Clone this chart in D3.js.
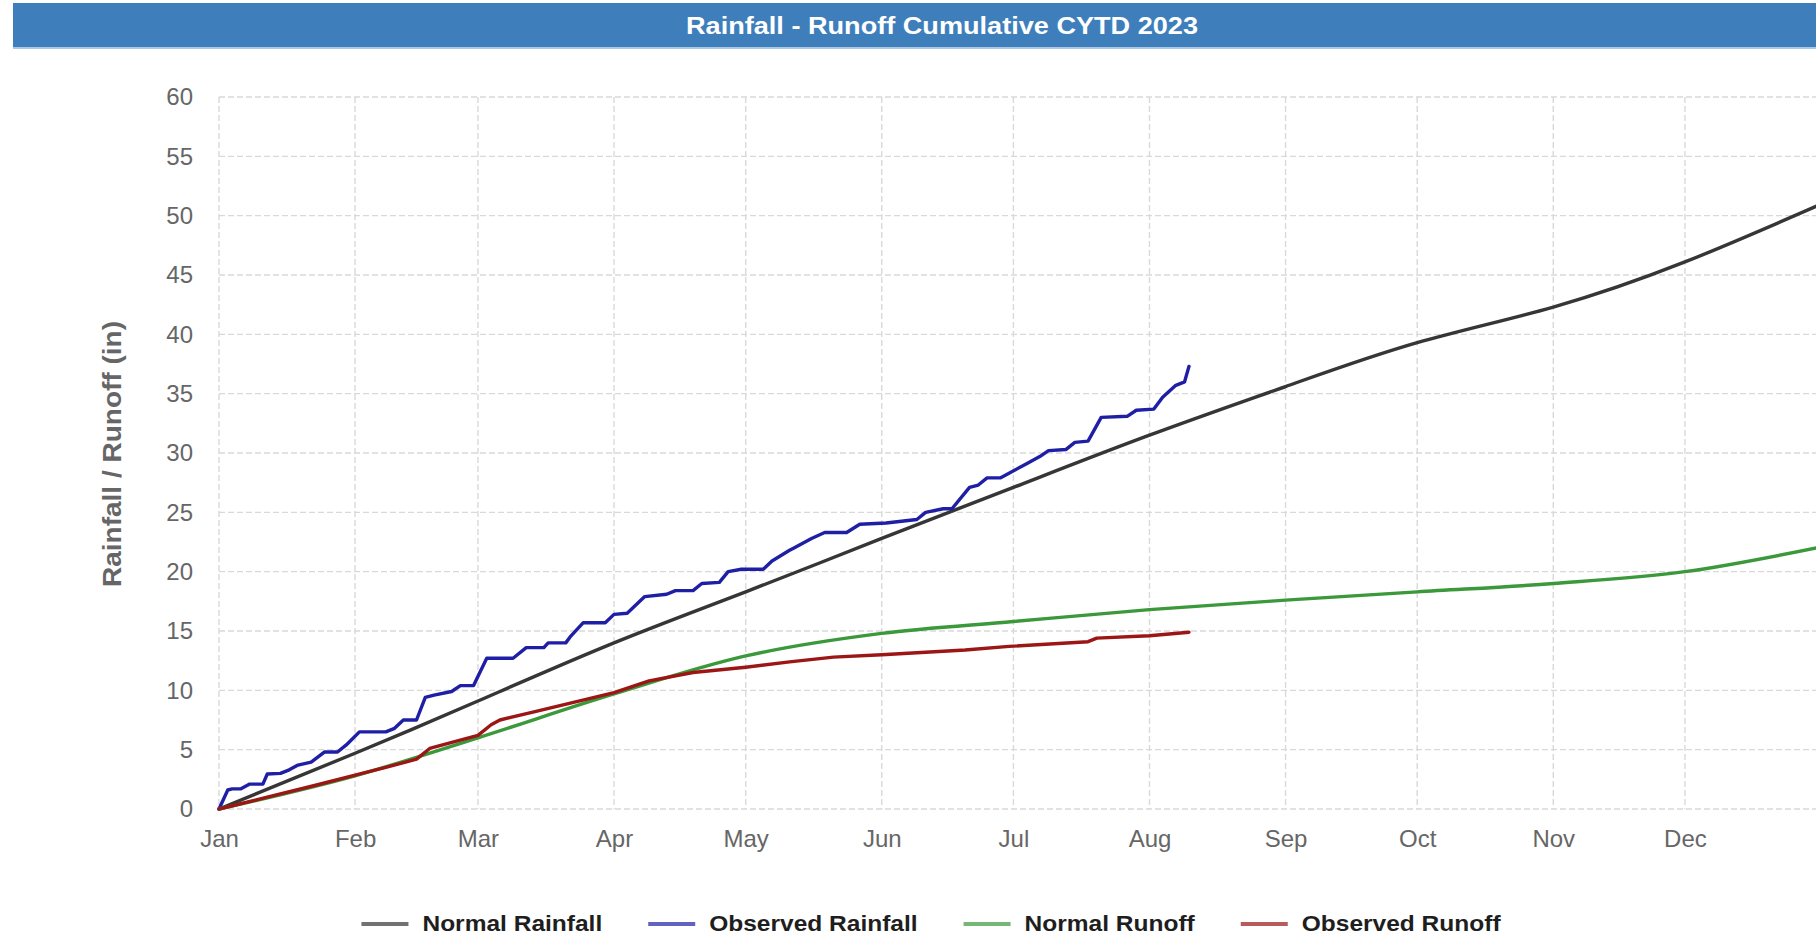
<!DOCTYPE html>
<html>
<head>
<meta charset="utf-8">
<title>Rainfall - Runoff Cumulative CYTD 2023</title>
<script src="https://cdn.jsdelivr.net/npm/d3@7"></script>
<style>
  html, body { margin: 0; padding: 0; background: #ffffff; overflow: hidden; }
  svg { display: block; }
</style>
</head>
<body>
<svg id="chart" width="1816" height="936"></svg>
<script>
// ---- data -------------------------------------------------------------
const YEAR = 2023;
const monthLabels = ["Jan","Feb","Mar","Apr","May","Jun","Jul","Aug","Sep","Oct","Nov","Dec"];
const yTickValues = [0, 5, 10, 15, 20, 25, 30, 35, 40, 45, 50, 55, 60];

// long-term normals (cumulative inches)
const normalDates = ["01-01","02-01","03-01","04-01","05-01","06-01","07-01","08-01","09-01","10-01","11-01","12-01","12-31"];
const normalRainfall = [0, 4.7, 9.1, 14.0, 18.3, 22.8, 27.1, 31.5, 35.6, 39.3, 42.3, 46.1, 50.8];
const normalRunoff   = [0, 2.8, 6.0, 9.7, 12.9, 14.8, 15.8, 16.8, 17.6, 18.3, 19.0, 20.0, 22.0];

// observed cumulative rainfall, year to date
const obsRainDates = ["01-01","01-03","01-04","01-06","01-08","01-11","01-12","01-15","01-17","01-19",
  "01-22","01-25","01-28","01-30","02-02","02-08","02-10","02-12","02-15","02-17",
  "02-19","02-23","02-25","02-28","03-03","03-09","03-12","03-16","03-17","03-21",
  "03-22","03-25","03-30","04-01","04-04","04-08","04-13","04-15","04-19","04-21",
  "04-25","04-27","04-30","05-05","05-07","05-11","05-12","05-16","05-19","05-24",
  "05-27","06-02","06-09","06-11","06-15","06-17","06-21","06-23","06-25","06-28",
  "07-04","07-07","07-09","07-13","07-15","07-18","07-21","07-27","07-29","08-02",
  "08-04","08-07","08-09","08-10"];
const obsRainValues = [0, 1.6, 1.7, 1.7, 2.1, 2.1, 2.95, 3.0, 3.3, 3.7,
  3.95, 4.8, 4.8, 5.4, 6.5, 6.5, 6.8, 7.5, 7.5, 9.4,
  9.6, 9.9, 10.4, 10.4, 12.7, 12.7, 13.6, 13.6, 14.0, 14.0,
  14.5, 15.7, 15.7, 16.4, 16.5, 17.9, 18.1, 18.4, 18.4, 19.0,
  19.1, 20.0, 20.2, 20.2, 20.9, 21.8, 22.0, 22.8, 23.3, 23.3,
  24.0, 24.1, 24.4, 25.0, 25.3, 25.3, 27.1, 27.3, 27.9, 27.9,
  29.1, 29.7, 30.2, 30.3, 30.9, 31.0, 33.0, 33.1, 33.6, 33.7,
  34.7, 35.7, 36.0, 37.3];

// observed cumulative runoff, year to date
const obsRunoffDates = ["01-01","01-12","01-23","02-01","02-08","02-15","02-16","02-18","02-22","03-01",
  "03-04","03-06","03-14","03-23","04-01","04-09","04-19","05-01","05-11","05-21",
  "06-01","06-20","06-30","07-18","07-20","08-01","08-10"];
const obsRunoffValues = [0, 1.0, 2.0, 2.85, 3.5, 4.2, 4.5, 5.1, 5.5, 6.2,
  7.1, 7.5, 8.2, 9.0, 9.8, 10.8, 11.5, 11.95, 12.4, 12.8,
  13.0, 13.4, 13.7, 14.1, 14.4, 14.6, 14.9];

const seriesNames  = ["Normal Rainfall", "Observed Rainfall", "Normal Runoff", "Observed Runoff"];
const seriesColors = ["#363636", "#1f1fa6", "#3b983b", "#9c1616"];

// ---- helpers ----------------------------------------------------------
const parseDay = d3.timeParse("%Y-%m-%d");
const toDate = md => parseDay(`${YEAR}-${md}`);
const zip = (dates, values) => dates.map((d, i) => ({ date: toDate(d), value: values[i] }));

const series = [
  { name: seriesNames[0], color: seriesColors[0], points: zip(normalDates, normalRainfall), curve: d3.curveNatural },
  { name: seriesNames[1], color: seriesColors[1], points: zip(obsRainDates, obsRainValues), curve: d3.curveLinear },
  { name: seriesNames[2], color: seriesColors[2], points: zip(normalDates, normalRunoff),   curve: d3.curveMonotoneX },
  { name: seriesNames[3], color: seriesColors[3], points: zip(obsRunoffDates, obsRunoffValues), curve: d3.curveLinear }
];

// ---- layout -----------------------------------------------------------
const plot = { left: 219, right: 1821, top: 97, bottom: 809 };
const svg = d3.select("#chart");
const FONT = "'Liberation Sans', Arial, Helvetica, sans-serif";

const x = d3.scaleTime()
  .domain([new Date(YEAR, 0, 1), new Date(YEAR + 1, 0, 1)])
  .range([plot.left, plot.right]);
const y = d3.scaleLinear()
  .domain([0, 60])
  .range([plot.bottom, plot.top]);

// ---- header bar -------------------------------------------------------
svg.append("rect")
  .attr("x", 13).attr("y", 3).attr("width", 1900).attr("height", 45)
  .attr("fill", "#3e7fbb");
svg.append("rect")
  .attr("x", 13).attr("y", 47).attr("width", 1900).attr("height", 2)
  .attr("fill", "#a9c8e6");
svg.append("text")
  .attr("x", 942).attr("y", 34)
  .attr("text-anchor", "middle")
  .attr("font-family", FONT)
  .attr("font-weight", "bold")
  .attr("font-size", 24)
  .attr("textLength", 512)
  .attr("lengthAdjust", "spacingAndGlyphs")
  .attr("fill", "#ffffff")
  .text("Rainfall - Runoff Cumulative CYTD 2023");

// ---- grid -------------------------------------------------------------
const monthTicks = d3.range(12).map(m => new Date(YEAR, m, 1));
const grid = svg.append("g").attr("class", "grid")
  .attr("stroke", "#d9d9d9").attr("stroke-width", 1.4).attr("stroke-dasharray", "6,3");
grid.selectAll("line.v").data(monthTicks).join("line")
  .attr("class", "v")
  .attr("x1", d => x(d)).attr("x2", d => x(d))
  .attr("y1", plot.top).attr("y2", plot.bottom);
grid.selectAll("line.h").data(yTickValues).join("line")
  .attr("class", "h")
  .attr("x1", plot.left).attr("x2", plot.right)
  .attr("y1", d => y(d)).attr("y2", d => y(d));

// ---- axes -------------------------------------------------------------
const yAxis = d3.axisLeft(y).tickValues(yTickValues).tickSize(0).tickPadding(26);
const gy = svg.append("g").attr("transform", `translate(${plot.left},0)`).call(yAxis);
const xAxis = d3.axisBottom(x).tickValues(monthTicks).tickSize(0).tickPadding(21)
  .tickFormat(d => monthLabels[d.getMonth()]);
const gx = svg.append("g").attr("transform", `translate(0,${plot.bottom})`).call(xAxis);
[gx, gy].forEach(g => {
  g.select(".domain").remove();
  g.selectAll("text")
    .attr("font-family", FONT)
    .attr("font-size", 24)
    .attr("fill", "#666666");
});

svg.append("text")
  .attr("transform", "translate(121,454) rotate(-90)")
  .attr("text-anchor", "middle")
  .attr("font-family", FONT)
  .attr("font-weight", "bold")
  .attr("font-size", 25)
  .attr("textLength", 266)
  .attr("lengthAdjust", "spacingAndGlyphs")
  .attr("fill", "#666666")
  .text("Rainfall / Runoff (in)");

// ---- series -----------------------------------------------------------
const lines = svg.append("g").attr("class", "series");
series.forEach(s => {
  const line = d3.line().x(d => x(d.date)).y(d => y(d.value)).curve(s.curve);
  lines.append("path")
    .datum(s.points)
    .attr("d", line)
    .attr("fill", "none")
    .attr("stroke", s.color)
    .attr("stroke-width", 3.4)
    .attr("stroke-linejoin", "round")
    .attr("stroke-linecap", "round");
});

// ---- legend -----------------------------------------------------------
const legend = svg.append("g").attr("class", "legend");
const symW = 47, symGap = 14, itemGap = 46, legendY = 924, stretch = 1.09;
const items = legend.selectAll("g").data(series).join("g");
items.append("line")
  .attr("x1", 0).attr("x2", symW)
  .attr("y1", 0).attr("y2", 0)
  .attr("stroke", d => d.color)
  .attr("stroke-opacity", 0.7)
  .attr("stroke-width", 4);
items.append("text")
  .attr("transform", `translate(${symW + symGap},7) scale(${stretch},1)`)
  .attr("font-family", FONT)
  .attr("font-weight", "bold")
  .attr("font-size", 22.5)
  .attr("fill", "#1e1e1e")
  .text(d => d.name);
let widths = [];
items.each(function () {
  widths.push(symW + symGap + stretch * d3.select(this).select("text").node().getComputedTextLength());
});
const total = d3.sum(widths) + itemGap * (widths.length - 1);
let cx = 931 - total / 2;
items.attr("transform", (d, i) => {
  const t = `translate(${cx},${legendY})`;
  cx += widths[i] + itemGap;
  return t;
});
</script>
</body>
</html>
